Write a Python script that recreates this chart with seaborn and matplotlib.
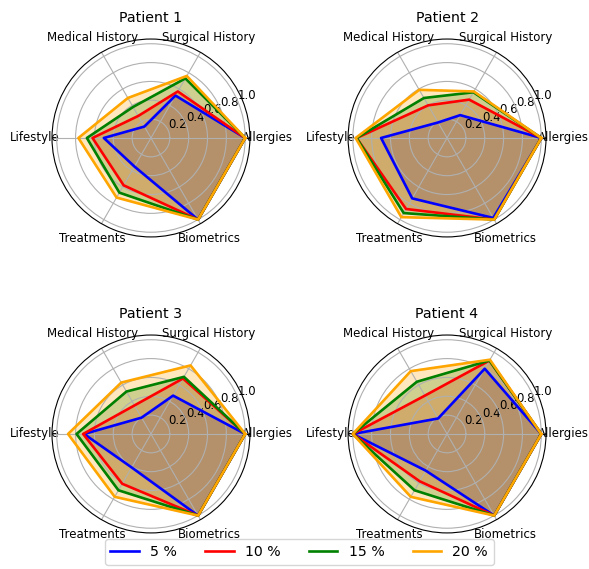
import numpy as np
import matplotlib
matplotlib.use("Agg")
import matplotlib.pyplot as plt
import seaborn as sns

categories = ["Allergies", "Surgical History", "Medical History",
              "Lifestyle", "Treatments", "Biometrics"]
levels = ["5 %", "10 %", "15 %", "20 %"]
colors = ["blue", "red", "green", "orange"]
patients = ["Patient 1", "Patient 2", "Patient 3", "Patient 4"]

# values per patient, one list per level (5, 10, 15, 20 %)
patient1 = [
    [1.0, 0.52, 0.14, 0.50, 0.35, 1.0],
    [1.0, 0.57, 0.27, 0.62, 0.58, 1.0],
    [1.0, 0.73, 0.38, 0.68, 0.67, 1.0],
    [1.0, 0.76, 0.49, 0.77, 0.73, 1.0],
]
patient2 = [
    [1.0, 0.28, 0.19, 0.70, 0.74, 0.98],
    [1.0, 0.47, 0.40, 0.96, 0.87, 1.0],
    [1.0, 0.56, 0.49, 0.96, 0.92, 1.0],
    [1.0, 0.57, 0.59, 0.97, 0.97, 1.0],
]
patient3 = [
    [1.0, 0.47, 0.20, 0.71, 0.41, 1.0],
    [1.0, 0.68, 0.35, 0.72, 0.61, 1.0],
    [1.0, 0.70, 0.52, 0.79, 0.69, 1.0],
    [1.0, 0.84, 0.63, 0.88, 0.77, 1.0],
]
patient4 = [
    [1.0, 0.80, 0.19, 1.0, 0.45, 1.0],
    [1.0, 0.90, 0.47, 1.0, 0.58, 1.0],
    [1.0, 0.90, 0.64, 1.0, 0.69, 1.0],
    [1.0, 0.91, 0.77, 1.0, 0.77, 1.0],
]
all_data = [patient1, patient2, patient3, patient4]

angles = np.linspace(0, 2 * np.pi, len(categories), endpoint=False)
angles_closed = np.append(angles, angles[0] + 2 * np.pi)

fig = plt.figure(figsize=(5.89, 5.69), dpi=100)
# axes placement [left, bottom, width, height]
boxes = [
    [0.0883, 0.5835, 0.336, 0.348],
    [0.591, 0.5835, 0.336, 0.348],
    [0.0883, 0.0633, 0.336, 0.348],
    [0.591, 0.0633, 0.336, 0.348],
]

for name, data, box in zip(patients, all_data, boxes):
    ax = fig.add_axes(box, projection="polar")
    for vals, col, lab in zip(data, colors, levels):
        closed = vals + vals[:1]
        sns.lineplot(x=angles_closed, y=closed, ax=ax, sort=False,
                     color=col, linewidth=1.9, label=lab, legend=False)
        ax.fill(angles_closed, closed, color=col, alpha=0.25)
    ax.set_xticks(angles)
    ax.set_xticklabels(categories, fontsize=8.5)
    ax.tick_params(axis="x", pad=2)
    ax.set_ylim(0, 1.05)
    ax.set_yticks([0.2, 0.4, 0.6, 0.8, 1.0])
    ax.tick_params(axis="y", labelsize=8.5)
    ax.set_xlabel("")
    ax.set_ylabel("")
    ax.set_title(name, fontsize=10.2)

handles, labels = ax.get_legend_handles_labels()
fig.legend(handles[:4], levels, loc="center", bbox_to_anchor=(0.508, 0.03),
           ncol=4, fontsize=10.2)

fig.savefig("out.png", dpi=100)
